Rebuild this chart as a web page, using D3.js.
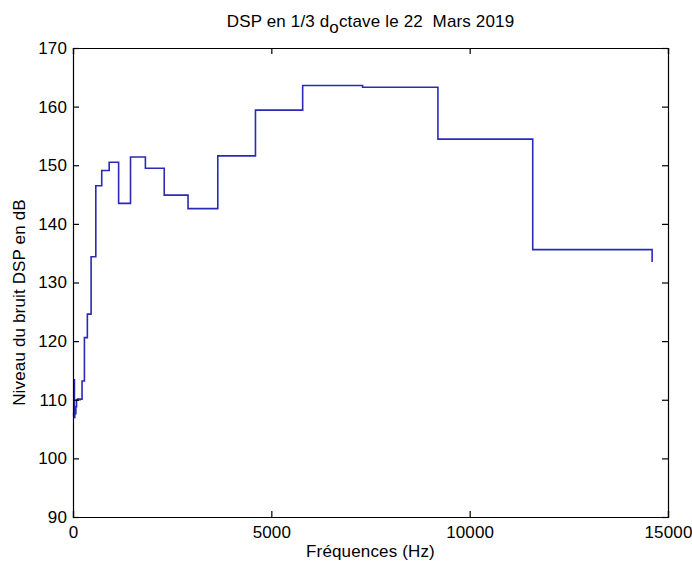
<!DOCTYPE html>
<html>
<head>
<meta charset="utf-8">
<script src="https://cdn.jsdelivr.net/npm/d3@7"></script>
<style>
  html, body { margin: 0; padding: 0; background: #ffffff; }
  svg { display: block; }
  text { font-family: "Liberation Sans", Arial, sans-serif; fill: #000; }
</style>
</head>
<body>
<svg id="chart" width="692" height="566"></svg>
<script>
// 1/3-octave band frequencies (Hz) and noise PSD levels (dB), drawn as stairs
const freqs = [14.2, 17.9, 22.6, 28.5, 36, 45, 57, 72, 90, 114, 144, 181, 228, 288, 362,
  456, 575, 724, 912, 1150, 1450, 1825, 2300, 2900, 3650, 4600, 5790, 7300, 9200, 11590, 14600];
const levels = [107.2, 107.8, 107.4, 113.4, 107.0, 108.3, 107.6, 108.8, 110.0, 110.1, 110.0, 110.1, 113.2, 120.6, 124.6,
  134.4, 146.5, 149.1, 150.5, 143.5, 151.4, 149.5, 144.9, 142.6, 151.6, 159.4, 163.6, 163.3, 154.45, 135.6, 133.5];

const xTicks = [0, 5000, 10000, 15000];
const yTicks = [90, 100, 110, 120, 130, 140, 150, 160, 170];

const titleMain = "DSP en 1/3 d";
const titleSub = "o";
const titleRest = "ctave le 22  Mars 2019";
const xLabel = "Fréquences (Hz)";
const yLabel = "Niveau du bruit DSP en dB";

const box = { left: 73, right: 668, top: 48, bottom: 517 };
const svg = d3.select("#chart");

const x = d3.scaleLinear().domain([0, 15000]).range([box.left, box.right]);
const y = d3.scaleLinear().domain([90, 170]).range([box.bottom, box.top]);

const tickLen = 6;
const fontSize = 17;
const spacing = 0.15;

// stairs curve
const pts = freqs.map((f, i) => [f, levels[i]]);
svg.append("path")
  .datum(pts)
  .attr("fill", "none")
  .attr("stroke", "#2a2ab4")
  .attr("stroke-width", 1.6)
  .attr("stroke-linejoin", "miter")
  .attr("d", d3.line().x(d => x(d[0])).y(d => y(d[1])).curve(d3.curveStepAfter));

// axes with inward ticks, closed box
const gx = svg.append("g").attr("transform", `translate(0,${box.bottom})`)
  .call(d3.axisBottom(x).tickValues(xTicks).tickSize(-tickLen).tickPadding(9).tickFormat(d3.format("d")));
const gxTop = svg.append("g").attr("transform", `translate(0,${box.top})`)
  .call(d3.axisTop(x).tickValues(xTicks).tickSize(-tickLen).tickFormat(""));
const gy = svg.append("g").attr("transform", `translate(${box.left},0)`)
  .call(d3.axisLeft(y).tickValues(yTicks).tickSize(-tickLen).tickPadding(6));
const gyR = svg.append("g").attr("transform", `translate(${box.right},0)`)
  .call(d3.axisRight(y).tickValues(yTicks).tickSize(-tickLen).tickFormat(""));

[gx, gxTop, gy, gyR].forEach(g => {
  g.select(".domain").attr("stroke", "#000").attr("stroke-width", 1.2);
  g.selectAll(".tick line").attr("stroke", "#000").attr("stroke-width", 1.2);
  g.selectAll(".tick text")
    .attr("font-size", fontSize)
    .attr("letter-spacing", spacing)
    .attr("font-family", "Liberation Sans, Arial, sans-serif")
    .attr("fill", "#000");
});

// title with subscript
const t = svg.append("text")
  .attr("x", (box.left + box.right) / 2)
  .attr("y", 27)
  .attr("text-anchor", "middle")
  .attr("font-size", fontSize)
  .attr("letter-spacing", spacing)
  .style("white-space", "pre");
t.append("tspan").text(titleMain);
t.append("tspan").attr("dy", 6).text(titleSub);
t.append("tspan").attr("dy", -6).text(titleRest);

svg.append("text")
  .attr("x", (box.left + box.right) / 2)
  .attr("y", 557)
  .attr("text-anchor", "middle")
  .attr("font-size", fontSize)
  .attr("letter-spacing", spacing)
  .text(xLabel);

svg.append("text")
  .attr("transform", `translate(25,${(box.top + box.bottom) / 2 + 20}) rotate(-90)`)
  .attr("text-anchor", "middle")
  .attr("font-size", fontSize)
  .attr("letter-spacing", spacing)
  .text(yLabel);
</script>
</body>
</html>
